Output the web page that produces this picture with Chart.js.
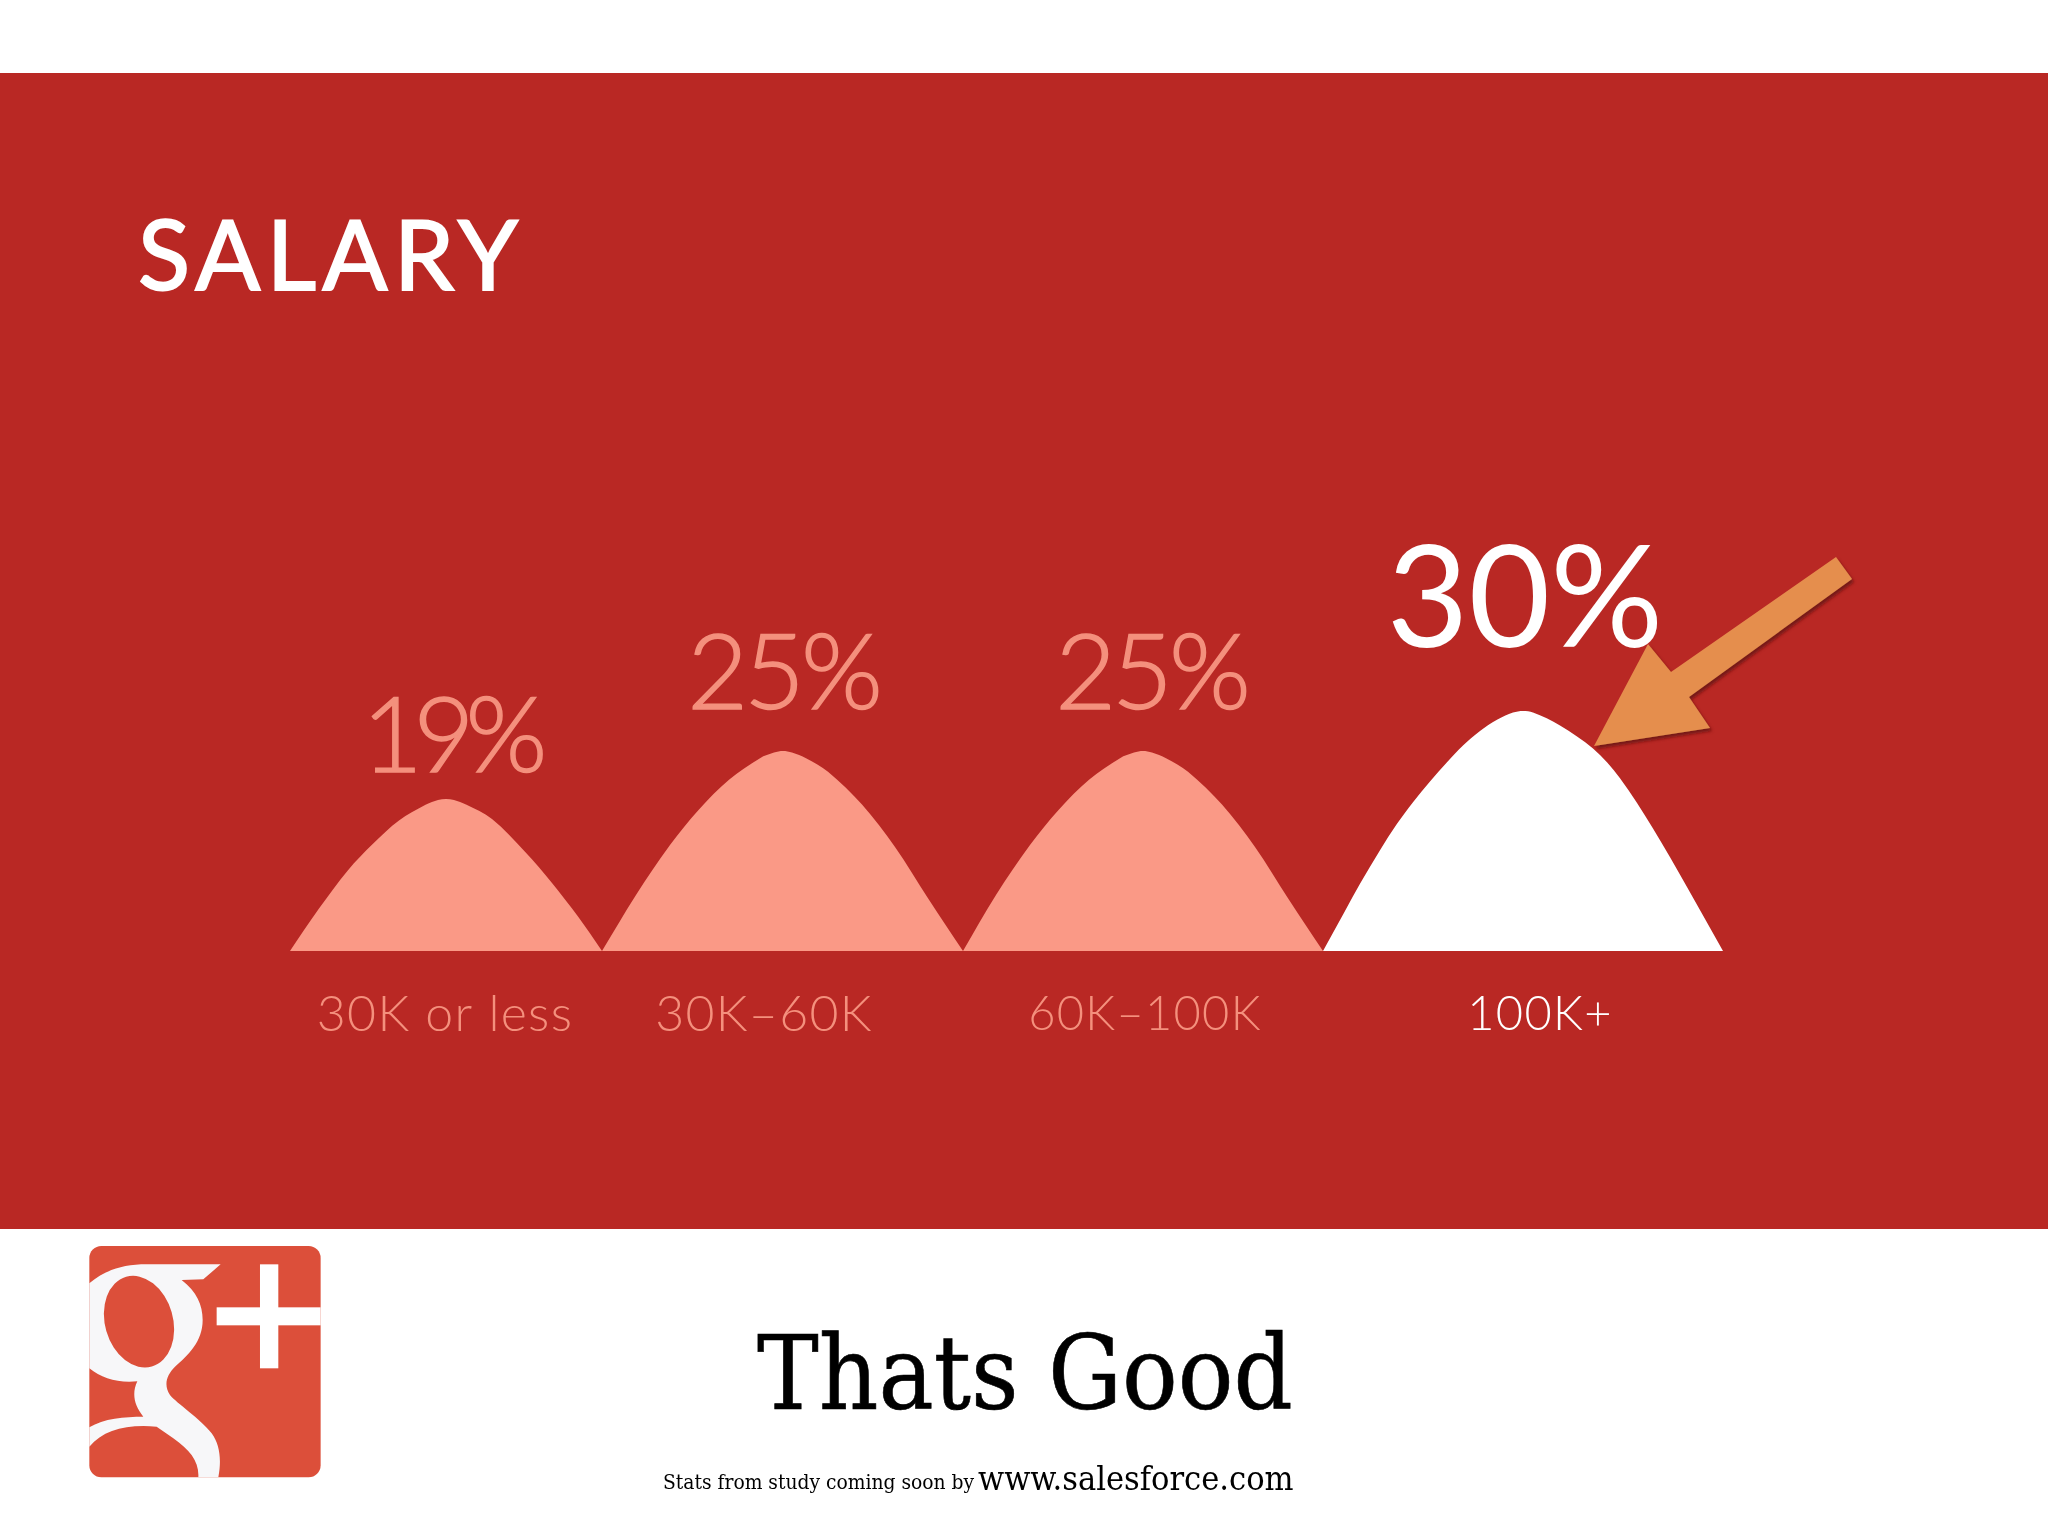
<!DOCTYPE html>
<html>
<head>
<meta charset="utf-8">
<title>Salary</title>
<script src="https://cdn.jsdelivr.net/npm/chart.js@4"></script>
<style>
html, body { margin: 0; padding: 0; background: #fff; }
#page { position: relative; width: 2048px; height: 1536px; overflow: hidden; background: #fff; }
#band { position: absolute; left: 0; top: 73px; width: 2048px; height: 1156px; background: #b92824; }
#graphic { position: absolute; left: 0; top: 0; }
#overlay { position: absolute; left: 0; top: 0; }
.txt { position: absolute; white-space: nowrap; line-height: 1; }
#titulo { left: 138px; top: 195px; font: 400 96px Lato, sans-serif; color: #fff; letter-spacing: 6.5px; -webkit-text-stroke: 2px #fff; }
#good { left: 757px; top: 1313px; font: 400 103px "DejaVu Serif", serif; font-stretch: condensed; color: #000; -webkit-text-stroke: 0.6px #000; }
#stats { left: 663px; top: 1470px; font: 400 20.8px "DejaVu Serif", serif; font-stretch: condensed; color: #000; }
#web { left: 978px; top: 1458px; font: 400 34px "DejaVu Serif", serif; font-stretch: condensed; color: #000; }
</style>
</head>
<body>
<div id="page">
  <div id="band"></div>
  <canvas id="graphic" width="2048" height="1536"></canvas>
  <div class="txt" id="titulo">SALARY</div>
  <div class="txt" id="good">Thats Good</div>
  <div class="txt" id="stats">Stats from study coming soon by</div>
  <div class="txt" id="web">www.salesforce.com</div>

  <svg id="overlay" width="2048" height="1536">
    <defs>
      <filter id="sombra" x="-10%" y="-10%" width="120%" height="120%">
        <feDropShadow dx="2" dy="3" stdDeviation="1.5" flood-color="#5a0f0c" flood-opacity="0.7"/>
      </filter>
    </defs>
    <!-- arrow -->
    <polygon filter="url(#sombra)" fill="#e58e4e"
      points="1836,557 1852,579 1689,697 1710,728 1594,746 1648,644 1671,672"/>
    <!-- g+ logo, drawn in the coordinates of a 3x crop -->
    <g transform="translate(60 1220) scale(0.3333)">
      <rect x="88" y="78" width="694" height="694" rx="36" fill="#dc4f3a"/>
      <path fill="#f7f7f9" d="M88 190 C135 150 190 133 260 133 L482 133 L430 178 L365 180
        C410 215 428 255 428 300 C428 365 385 405 345 440 C320 465 310 495 330 525
        C350 550 420 595 455 640 C480 675 485 720 475 772 L415 772
        C418 725 390 690 340 655 L290 620 C200 612 130 630 88 680 L88 622
        C130 595 195 590 250 590 C222 555 215 520 232 484 C175 490 125 475 88 445 Z"/>
      <ellipse cx="237" cy="305" rx="102" ry="140" transform="rotate(-16 237 305)" fill="#dc4f3a"/>
      <rect x="600" y="133" width="55" height="312" fill="#fff"/>
      <rect x="470" y="262" width="312" height="54" fill="#fff"/>
    </g>
  </svg>
</div>

<script>
// --- DATOS ---
const categorias = ["30K or less", "30K–60K", "60K–100K", "100K+"];
const porcentajes = [19, 25, 25, 30];

// contorno de cada curva
const curva1X = [0, 29, 58, 83, 109, 136, 148, 156, 164, 176, 202, 235, 262, 288, 312];
const curva1Y = [0, 5.3, 10.1, 13.4, 16.3, 18.3, 18.87, 19, 18.87, 18.3, 16.5, 12.4, 8.5, 4.3, 0];
const curva2X = [312, 346, 380, 409, 439, 470, 484, 493, 502, 516, 538, 572, 605, 638, 673];
const curva2Y = [0, 7, 13.25, 17.7, 21.4, 24.1, 24.8, 25, 24.8, 24.1, 22.4, 18.3, 13, 6.6, 0];
const curva3X = [673, 706, 740, 769, 799, 830, 844, 853, 862, 876, 898, 932, 965, 998, 1033];
const curva3Y = [0, 7, 13.25, 17.7, 21.4, 24.1, 24.8, 25, 24.8, 24.1, 22.4, 18.3, 13, 6.6, 0];
const curva4X = [1033, 1055, 1070, 1090, 1107, 1123, 1140, 1157, 1173, 1190, 1207, 1223, 1233, 1243, 1270, 1303, 1330, 1363, 1397, 1433];
const curva4Y = [0, 5, 8.4, 12.6, 15.9, 18.6, 21.2, 23.6, 25.7, 27.5, 28.9, 29.8, 30, 29.8, 28.2, 25.3, 21.6, 15.3, 8, 0];

// donde caen los textos del eje
const marcasEje = [155, 474, 855, 1250];

const SALMON = "#fa9986";
const TEXTO_SALMON = "#f4907d";
const BLANCO = "#ffffff";
const DESTACADO = 3; // la categoria en blanco

const curvas = [[curva1X, curva1Y], [curva2X, curva2Y], [curva3X, curva3Y], [curva4X, curva4Y]];

function crearDataset(i) {
    const [xs, ys] = curvas[i];
    return {
        label: categorias[i],
        data: xs.map((x, j) => ({ x: x, y: ys[j] })),
        backgroundColor: i === DESTACADO ? BLANCO : SALMON,
        borderWidth: 0,
        pointRadius: 0,
        fill: "origin",
        tension: 0.33,
        clip: false
    };
}

// textos de porcentaje encima de cada curva
const etiquetasPlugin = {
    id: "etiquetas",
    beforeDraw(chart) {
        chart.ctx.letterSpacing = "1.3px"; // para los textos del eje
    },
    afterDatasetsDraw(chart) {
        const ctx = chart.ctx;
        const x = chart.scales.x;
        const y = chart.scales.y;
        const ajusteX = [4, 0, 8, 2];
        const ajusteY = [27, 42, 42, 64];
        const espacio = ["-9px", "-4px", "-4px", "0px"];
        ctx.save();
        ctx.textAlign = "center";
        ctx.textBaseline = "alphabetic";
        porcentajes.forEach((p, i) => {
            const ys = curvas[i][1];
            const cima = curvas[i][0][ys.indexOf(p)];
            const px = x.getPixelForValue(cima) + ajusteX[i];
            const py = y.getPixelForValue(p) - ajusteY[i];
            ctx.font = i === DESTACADO ? "400 141px Lato, sans-serif" : "300 105px Lato, sans-serif";
            ctx.letterSpacing = espacio[i];
            ctx.fillStyle = i === DESTACADO ? BLANCO : TEXTO_SALMON;
            ctx.fillText(p + "%", px, py);
            if (i !== DESTACADO) { // Lato Light se queda fino
                ctx.strokeStyle = TEXTO_SALMON;
                ctx.lineWidth = 1.5;
                ctx.strokeText(p + "%", px, py);
            }
        });
        ctx.restore();
    }
};

new Chart(document.getElementById("graphic").getContext("2d"), {
    type: "line",
    data: { datasets: categorias.map((c, i) => crearDataset(i)) },
    plugins: [etiquetasPlugin],
    options: {
        responsive: false,
        animation: false,
        devicePixelRatio: 1,
        layout: { padding: { left: 290, right: 325, top: 711, bottom: 465 } },
        plugins: { legend: { display: false }, tooltip: { enabled: false }, title: { display: false } },
        scales: {
            x: {
                type: "linear",
                min: 0,
                max: 1433,
                grid: { display: false, drawTicks: false },
                border: { display: false },
                afterBuildTicks(scale) {
                    scale.ticks = marcasEje.map(v => ({ value: v }));
                },
                afterFit(scale) {
                    scale.height = 120;
                },
                ticks: {
                    autoSkip: false,
                    maxRotation: 0,
                    padding: 34,
                    font: ctx => ({ family: "Lato, sans-serif", size: ctx.index >= 2 ? 47 : 50, weight: "300", lineHeight: "60px" }),
                    color: ctx => ctx.index === DESTACADO ? BLANCO : TEXTO_SALMON,
                    callback: (v, i) => categorias[i]
                }
            },
            y: {
                display: false,
                min: 0,
                max: 30
            }
        }
    }
});
</script>
</body>
</html>
